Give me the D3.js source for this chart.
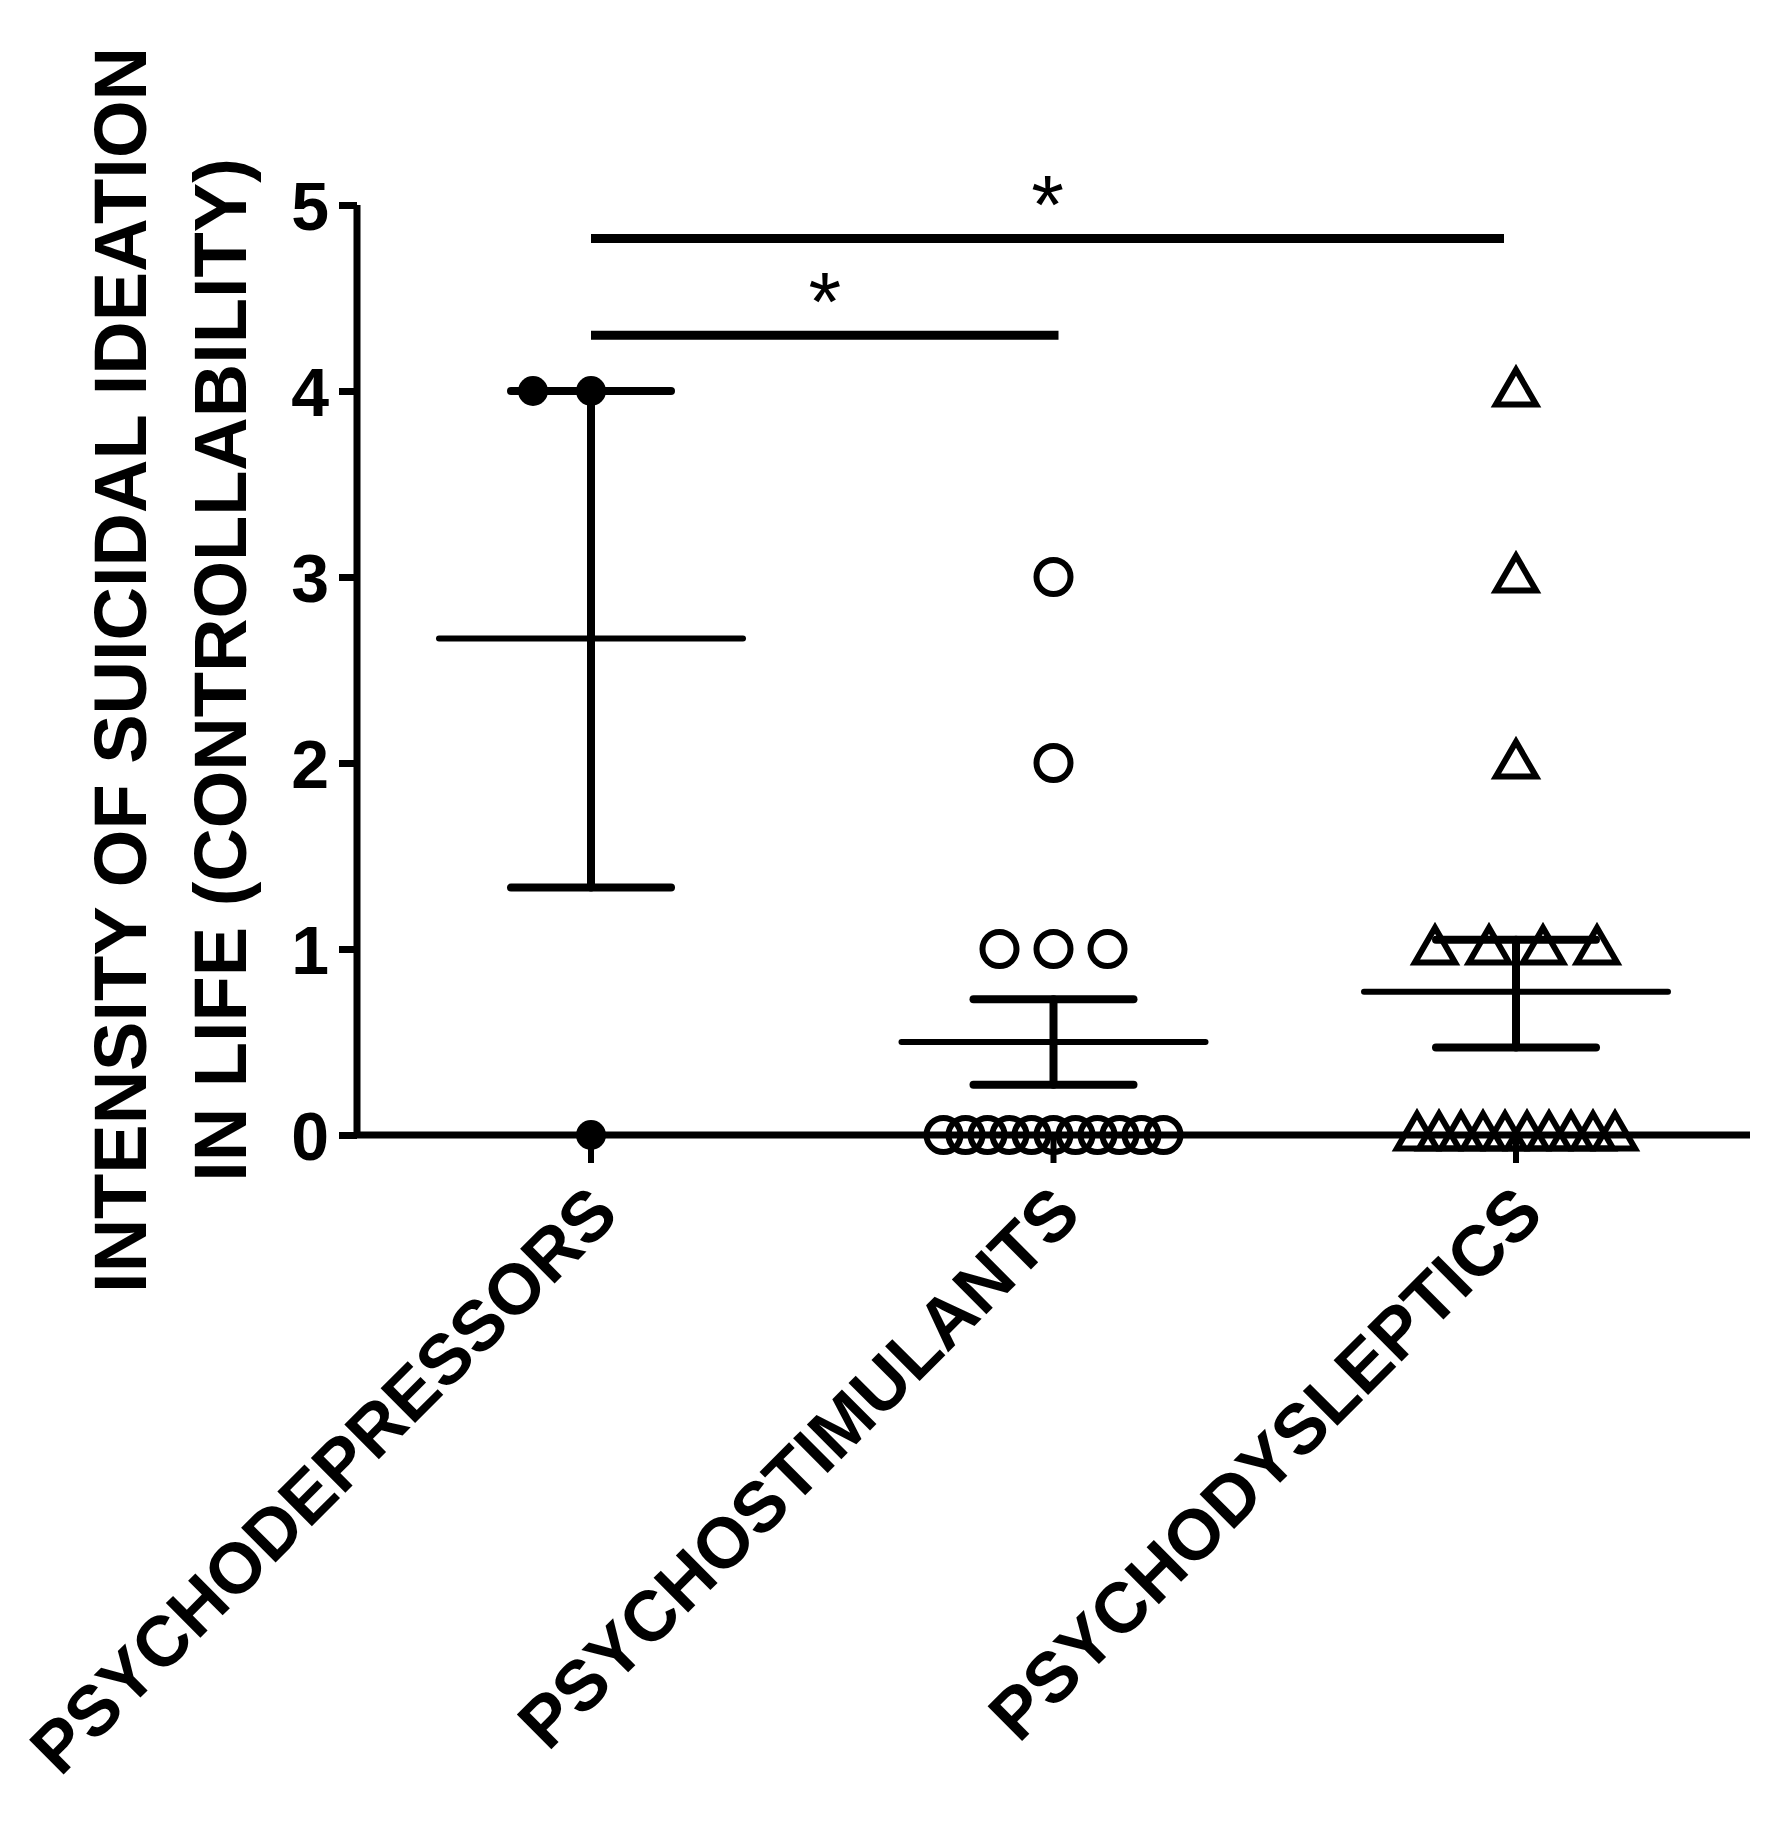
<!DOCTYPE html>
<html><head><meta charset="utf-8">
<script src="https://cdn.jsdelivr.net/npm/d3@7"></script>
<style>body{margin:0;background:#fff}</style></head>
<body><svg id="chart" width="1791" height="1836"></svg>
<script>
const categories = ["PSYCHODEPRESSORS", "PSYCHOSTIMULANTS", "PSYCHODYSLEPTICS"]
const depressors = [4, 4, 0]
const stimulants = [3, 2, 1, 1, 1, 0, 0, 0, 0, 0, 0, 0, 0, 0, 0, 0]
const dysleptics = [4, 3, 2, 1, 1, 1, 1, 0, 0, 0, 0, 0, 0, 0, 0, 0, 0]
const means = [2.67, 0.5, 0.77]
const semLow = [1.33, 0.27, 0.47]
const semHigh = [4.0, 0.73, 1.05]
const yTicks = [0, 1, 2, 3, 4, 5]
const sigPairs = [[0, 1, 4.3], [0, 2, 4.82]]
const shapes = ["filled", "circle", "triangle"]

const svg = d3.select('#chart')
const x = d3.scalePoint().domain(categories).range([591, 1516])
const y = d3.scaleLinear().domain([0, 5]).range([1135, 205])
const font = "'Liberation Sans', Arial, sans-serif"

// axes
const yAxis = svg.append('g').attr('transform', 'translate(357,0)')
    .call(d3.axisLeft(y).tickValues(yTicks).tickSize(18).tickFormat(d3.format('d')))
yAxis.select('.domain').attr('stroke-width', 7).attr('d', `M0,${y(5)}V${y(0)}`)
yAxis.selectAll('.tick line').attr('stroke-width', 7)
yAxis.selectAll('.tick text').attr('font-family', font).attr('font-weight', 'bold')
    .attr('font-size', 68).attr('x', -28).attr('dy', '0.36em')
svg.append('line').attr('x1', 357).attr('x2', 1750).attr('y1', y(0)).attr('y2', y(0))
    .attr('stroke', '#000').attr('stroke-width', 7)

svg.append('text').attr('font-family', font).attr('font-weight', 'bold').attr('font-size', 74)
    .attr('text-anchor', 'middle').attr('transform', 'translate(146,670) rotate(-90)')
    .selectAll('tspan').data(['INTENSITY OF SUICIDAL IDEATION', 'IN LIFE (CONTROLLABILITY)']).join('tspan')
    .attr('x', 0).attr('dy', (d, i) => i ? 100 : 0).text(d => d)

categories.forEach(c => {
    svg.append('text').attr('font-family', font).attr('font-weight', 'bold').attr('font-size', 71)
        .attr('text-anchor', 'end')
        .attr('transform', `translate(${x(c) + 30},${y(0) + 82}) rotate(-45)`).text(c)
})

// scatter points (beeswarm by value)
const groups = [depressors, stimulants, dysleptics]
const spacing = 22
groups.forEach((vals, gi) => {
    const counts = d3.rollup(vals, v => v.length, d => d)
    const g = svg.append('g')
    counts.forEach((n, v) => {
        for (let k = 0; k < n; k++) {
            const offs = gi === 0 ? (n === 1 ? 0 : (k - (n - 1)) * 58) : (k - (n - 1) / 2) * (v === 1 ? 54 : spacing)
            const cx = x(categories[gi]) + offs, cy = y(v)
            if (shapes[gi] === 'filled') {
                g.append('circle').attr('cx', cx).attr('cy', cy).attr('r', 15).attr('fill', '#000')
            } else if (shapes[gi] === 'circle') {
                g.append('circle').attr('cx', cx).attr('cy', cy).attr('r', 17)
                    .attr('fill', 'none').attr('stroke', '#000').attr('stroke-width', 6)
            } else {
                g.append('path').attr('d', d3.symbol(d3.symbolTriangle, 700)())
                    .attr('transform', `translate(${cx},${cy + 2})`)
                    .attr('fill', 'none').attr('stroke', '#000').attr('stroke-width', 6)
            }
        }
    })
})

// mean and SEM
categories.forEach((c, i) => {
    const cx = x(c)
    const g = svg.append('g').attr('stroke', '#000').attr('stroke-linecap', 'round')
    g.append('line').attr('x1', cx).attr('x2', cx).attr('y1', y(semHigh[i])).attr('y2', y(semLow[i])).attr('stroke-width', 8)
    g.append('line').attr('x1', cx - 152).attr('x2', cx + 152).attr('y1', y(means[i])).attr('y2', y(means[i])).attr('stroke-width', 6)
    ;[semLow[i], semHigh[i]].forEach(v => {
        g.append('line').attr('x1', cx - 80).attr('x2', cx + 80).attr('y1', y(v)).attr('y2', y(v)).attr('stroke-width', 8)
    })
    svg.append('line').attr('x1', cx).attr('x2', cx).attr('y1', y(0)).attr('y2', y(0) + 28)
        .attr('stroke', '#000').attr('stroke-width', 6)
})

// significance
sigPairs.forEach(([a, b, v]) => {
    const x1 = x(categories[a]), x2 = x(categories[b]) + (b === 1 ? 5 : -12)
    svg.append('line').attr('x1', x1).attr('x2', x2).attr('y1', y(v)).attr('y2', y(v))
        .attr('stroke', '#000').attr('stroke-width', 9)
    svg.append('text').attr('x', (x1 + x2) / 2).attr('y', y(v) - 4).attr('text-anchor', 'middle')
        .attr('font-family', font).attr('font-size', 84).text('*')
})
</script></body></html>
